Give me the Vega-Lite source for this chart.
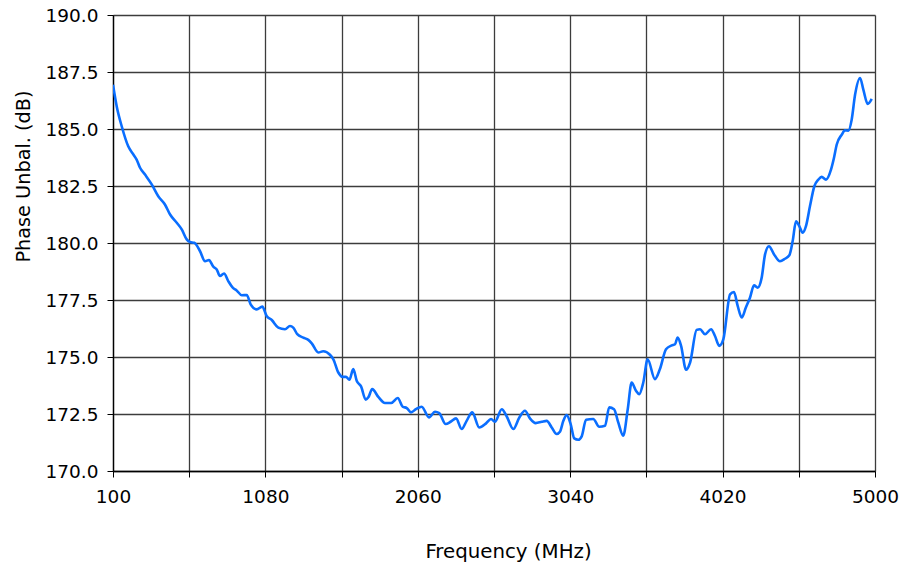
{
  "$schema": "https://vega.github.io/schema/vega-lite/v6.json",
  "width": 762,
  "height": 456,
  "autosize": {"type": "none"},
  "padding": {"left": 113, "top": 15, "right": 26, "bottom": 94},
  "background": "white",
  "config": {
    "view": {"stroke": null},
    "font": "DejaVu Sans"
  },
  "data": {
    "values": [
      {"f": 100, "v": 186.94}, {"f": 124, "v": 185.99}, {"f": 156, "v": 185.12}, {"f": 198, "v": 184.24},
      {"f": 231, "v": 183.88}, {"f": 252, "v": 183.66}, {"f": 274, "v": 183.3}, {"f": 306, "v": 183.0},
      {"f": 349, "v": 182.57}, {"f": 391, "v": 182.05}, {"f": 434, "v": 181.69}, {"f": 467, "v": 181.25},
      {"f": 510, "v": 180.89}, {"f": 542, "v": 180.6}, {"f": 574, "v": 180.16}, {"f": 595, "v": 180.04},
      {"f": 623, "v": 180.01}, {"f": 659, "v": 179.65}, {"f": 692, "v": 179.2}, {"f": 717, "v": 179.25},
      {"f": 745, "v": 178.96}, {"f": 767, "v": 178.84}, {"f": 788, "v": 178.55}, {"f": 814, "v": 178.66},
      {"f": 841, "v": 178.33}, {"f": 870, "v": 178.04}, {"f": 895, "v": 177.92}, {"f": 928, "v": 177.71},
      {"f": 960, "v": 177.72}, {"f": 985, "v": 177.31}, {"f": 1024, "v": 177.09}, {"f": 1060, "v": 177.21},
      {"f": 1088, "v": 176.8}, {"f": 1121, "v": 176.62}, {"f": 1163, "v": 176.29}, {"f": 1206, "v": 176.22},
      {"f": 1238, "v": 176.36}, {"f": 1259, "v": 176.29}, {"f": 1285, "v": 176.0}, {"f": 1324, "v": 175.85},
      {"f": 1356, "v": 175.75}, {"f": 1378, "v": 175.6}, {"f": 1420, "v": 175.2}, {"f": 1452, "v": 175.25},
      {"f": 1495, "v": 175.1}, {"f": 1517, "v": 174.9}, {"f": 1549, "v": 174.32}, {"f": 1577, "v": 174.13},
      {"f": 1598, "v": 174.13}, {"f": 1620, "v": 174.0}, {"f": 1645, "v": 174.47}, {"f": 1667, "v": 173.96},
      {"f": 1695, "v": 173.71}, {"f": 1725, "v": 173.13}, {"f": 1742, "v": 173.23}, {"f": 1767, "v": 173.59},
      {"f": 1806, "v": 173.25}, {"f": 1849, "v": 172.98}, {"f": 1888, "v": 172.98}, {"f": 1931, "v": 173.2},
      {"f": 1963, "v": 172.82}, {"f": 1989, "v": 172.76}, {"f": 2016, "v": 172.57}, {"f": 2048, "v": 172.71},
      {"f": 2085, "v": 172.82}, {"f": 2132, "v": 172.35}, {"f": 2171, "v": 172.6}, {"f": 2198, "v": 172.54},
      {"f": 2239, "v": 172.06}, {"f": 2271, "v": 172.16}, {"f": 2306, "v": 172.31}, {"f": 2342, "v": 171.84},
      {"f": 2374, "v": 172.2}, {"f": 2410, "v": 172.57}, {"f": 2455, "v": 171.91}, {"f": 2499, "v": 172.09},
      {"f": 2531, "v": 172.28}, {"f": 2556, "v": 172.16}, {"f": 2600, "v": 172.71}, {"f": 2632, "v": 172.39},
      {"f": 2674, "v": 171.84}, {"f": 2713, "v": 172.35}, {"f": 2749, "v": 172.64}, {"f": 2781, "v": 172.31},
      {"f": 2818, "v": 172.1}, {"f": 2857, "v": 172.16}, {"f": 2889, "v": 172.2}, {"f": 2921, "v": 171.91},
      {"f": 2953, "v": 171.62}, {"f": 2974, "v": 171.72}, {"f": 2996, "v": 172.2}, {"f": 3017, "v": 172.45},
      {"f": 3043, "v": 172.06}, {"f": 3066, "v": 171.43}, {"f": 3092, "v": 171.37}, {"f": 3114, "v": 171.52},
      {"f": 3142, "v": 172.25}, {"f": 3188, "v": 172.28}, {"f": 3227, "v": 171.94}, {"f": 3264, "v": 171.98},
      {"f": 3291, "v": 172.79}, {"f": 3322, "v": 172.71}, {"f": 3349, "v": 172.13}, {"f": 3381, "v": 171.55},
      {"f": 3410, "v": 172.71}, {"f": 3435, "v": 173.88}, {"f": 3463, "v": 173.52}, {"f": 3484, "v": 173.37},
      {"f": 3510, "v": 173.88}, {"f": 3538, "v": 174.9}, {"f": 3585, "v": 174.03}, {"f": 3617, "v": 174.47},
      {"f": 3656, "v": 175.34}, {"f": 3693, "v": 175.51}, {"f": 3714, "v": 175.56}, {"f": 3731, "v": 175.85},
      {"f": 3753, "v": 175.49}, {"f": 3785, "v": 174.44}, {"f": 3811, "v": 174.76}, {"f": 3853, "v": 176.19},
      {"f": 3875, "v": 176.22}, {"f": 3907, "v": 176.0}, {"f": 3946, "v": 176.22}, {"f": 3971, "v": 175.92},
      {"f": 3999, "v": 175.49}, {"f": 4025, "v": 175.78}, {"f": 4068, "v": 177.75}, {"f": 4093, "v": 177.85},
      {"f": 4117, "v": 177.24}, {"f": 4143, "v": 176.73}, {"f": 4169, "v": 177.16}, {"f": 4196, "v": 177.6},
      {"f": 4222, "v": 178.14}, {"f": 4246, "v": 178.04}, {"f": 4271, "v": 178.47}, {"f": 4293, "v": 179.5},
      {"f": 4318, "v": 179.86}, {"f": 4351, "v": 179.5}, {"f": 4389, "v": 179.2}, {"f": 4421, "v": 179.31},
      {"f": 4449, "v": 179.46}, {"f": 4471, "v": 180.1}, {"f": 4492, "v": 180.95}, {"f": 4513, "v": 180.74},
      {"f": 4535, "v": 180.45}, {"f": 4556, "v": 180.74}, {"f": 4582, "v": 181.62}, {"f": 4610, "v": 182.49},
      {"f": 4636, "v": 182.78}, {"f": 4657, "v": 182.9}, {"f": 4685, "v": 182.78}, {"f": 4717, "v": 183.22},
      {"f": 4736, "v": 183.73}, {"f": 4754, "v": 184.32}, {"f": 4786, "v": 184.75}, {"f": 4807, "v": 184.94},
      {"f": 4829, "v": 184.93}, {"f": 4850, "v": 185.41}, {"f": 4872, "v": 186.51}, {"f": 4904, "v": 187.24},
      {"f": 4925, "v": 186.73}, {"f": 4953, "v": 186.1}, {"f": 4979, "v": 186.32}
    ]
  },
  "mark": {"type": "line", "color": "#0a6eff", "strokeWidth": 2.6, "interpolate": "monotone", "clip": true},
  "encoding": {
    "x": {
      "field": "f",
      "type": "quantitative",
      "scale": {"domain": [100, 5000], "nice": false, "zero": false},
      "axis": {
        "title": "Frequency (MHz)",
        "values": [100, 590, 1080, 1570, 2060, 2550, 3040, 3530, 4020, 4510, 5000],
        "labelExpr": "datum.value % 980 == 100 ? datum.label : ''",
        "format": "d",
        "grid": true,
        "gridColor": "#3c3c3c",
        "gridWidth": 1.3,
        "gridOpacity": 1,
        "domainColor": "#000",
        "domainWidth": 1.3,
        "tickColor": "#000",
        "tickSize": 6,
        "labelFontSize": 18.5,
        "labelColor": "#000",
        "labelPadding": 10,
        "labelFont": "DejaVu Sans",
        "labelFlush": false,
        "labelOverlap": false,
        "titleFont": "DejaVu Sans",
        "titleFontSize": 19.8,
        "titleFontWeight": "normal",
        "titleColor": "#000",
        "titlePadding": 36,
        "titleX": 395,
        "titleAlign": "center"
      }
    },
    "y": {
      "field": "v",
      "type": "quantitative",
      "scale": {"domain": [170, 190], "nice": false, "zero": false},
      "axis": {
        "title": "Phase Unbal. (dB)",
        "values": [170, 172.5, 175, 177.5, 180, 182.5, 185, 187.5, 190],
        "format": ".1f",
        "grid": true,
        "gridColor": "#3c3c3c",
        "gridWidth": 1.3,
        "gridOpacity": 1,
        "domainColor": "#000",
        "domainWidth": 1.3,
        "tickColor": "#000",
        "tickSize": 6,
        "labelFontSize": 18.5,
        "labelColor": "#000",
        "labelPadding": 9,
        "labelFont": "DejaVu Sans",
        "labelFlush": false,
        "labelOverlap": false,
        "titleFont": "DejaVu Sans",
        "titleFontSize": 19.3,
        "titleFontWeight": "normal",
        "titleColor": "#000",
        "titlePadding": 12,
        "titleY": 161,
        "titleAlign": "center"
      }
    }
  }
}
